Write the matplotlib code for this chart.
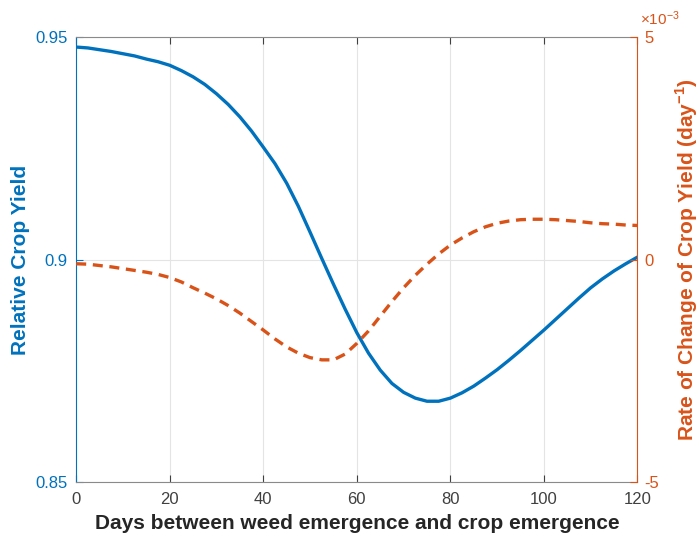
import numpy as np
import matplotlib
matplotlib.use("Agg")
import matplotlib.pyplot as plt

plt.rcParams['font.family'] = ['Liberation Sans', 'DejaVu Sans']
plt.rcParams['axes.unicode_minus'] = False
plt.rcParams['mathtext.fontset'] = 'custom'
plt.rcParams['mathtext.rm'] = 'Liberation Sans'
plt.rcParams['mathtext.bf'] = 'Liberation Sans:bold'

# 資料
days = [0, 2.5, 5, 7.5, 10, 12.5, 15, 17.5, 20, 22.5, 25, 27.5, 30, 32.5,
        35, 37.5, 40, 42.5, 45, 47.5, 50, 52.5, 55, 57.5, 60, 62.5, 65,
        67.5, 70, 72.5, 75, 77.5, 80, 82.5, 85, 87.5, 90, 92.5, 95, 97.5,
        100, 102.5, 105, 107.5, 110, 112.5, 115, 117.5, 120]
yield_rel = [0.9478, 0.9476, 0.9472, 0.9468, 0.9463, 0.9458, 0.9451, 0.9445,
             0.9437, 0.9425, 0.9411, 0.9394, 0.9373, 0.9349, 0.9321, 0.9289,
             0.9253, 0.9216, 0.9172, 0.9120, 0.9062, 0.9003, 0.8945, 0.8889,
             0.8836, 0.8790, 0.8752, 0.8722, 0.8702, 0.8689, 0.8682, 0.8682,
             0.8689, 0.8701, 0.8716, 0.8734, 0.8753, 0.8774, 0.8796, 0.8819,
             0.8842, 0.8866, 0.8890, 0.8914, 0.8937, 0.8957, 0.8975, 0.8991,
             0.9006]
# rate of change, in units of 1e-3 / day
rate = [-0.09, -0.10, -0.13, -0.16, -0.20, -0.24, -0.28, -0.33, -0.40, -0.50,
        -0.63, -0.75, -0.88, -1.03, -1.20, -1.39, -1.58, -1.78, -1.96, -2.10,
        -2.20, -2.25, -2.25, -2.12, -1.88, -1.60, -1.27, -0.94, -0.63, -0.35,
        -0.10, 0.13, 0.33, 0.49, 0.63, 0.74, 0.82, 0.87, 0.90, 0.91,
        0.91, 0.90, 0.88, 0.86, 0.83, 0.81, 0.80, 0.78, 0.77]

xticks = [0, 20, 40, 60, 80, 100, 120]
left_ticks = [0.85, 0.9, 0.95]
right_ticks = [-5, 0, 5]

blue = '#0072BD'
orange = '#D95319'
gray = '#262626'

fig = plt.figure(figsize=(6.99, 5.40), dpi=100)
ax = fig.add_axes([0.109, 0.107, 0.803, 0.824])
ax2 = ax.twinx()

ax.plot(days, yield_rel, color=blue, lw=2.4, solid_joinstyle='round')
ax2.plot(days, rate, color=orange, lw=2.4, ls=(0, (3.0, 2.0)))

ax.set_xlim(0, 120)
ax.set_ylim(0.85, 0.95)
ax2.set_ylim(-5, 5)
ax.set_xticks(xticks)
ax.set_yticks(left_ticks)
ax.set_yticklabels(['0.85', '0.9', '0.95'])
ax2.set_yticks(right_ticks)

ax.grid(True, color='#e4e4e4', lw=0.8)
ax.set_axisbelow(True)

ax.tick_params(axis='x', direction='in', top=True, colors='#404040',
               labelsize=12, length=5, pad=7)
ax.tick_params(axis='y', direction='in', colors=blue, labelsize=12, length=5, pad=6)
ax2.tick_params(axis='y', direction='in', colors=orange, labelsize=12, length=5, pad=5)

for s in ['top', 'bottom']:
    ax.spines[s].set_color('#8a8a8a')
    ax2.spines[s].set_visible(False)
ax.spines['left'].set_color(blue)
ax.spines['right'].set_visible(False)
ax2.spines['left'].set_visible(False)
ax2.spines['right'].set_color(orange)

ax.set_xlabel('Days between weed emergence and crop emergence',
              fontsize=15, fontweight='bold', color=gray, labelpad=5)
ax.set_ylabel('Relative Crop Yield', fontsize=15, fontweight='bold',
              color=blue, labelpad=4)
ax2.set_ylabel('Rate of Change of Crop Yield (day$^{\\mathbf{-1}}$)',
               fontsize=15, fontweight='bold', color=orange, labelpad=10)

# ×10^-3 multiplier above the right axis
ax2.text(1.004, 1.02, r'$\times\mathregular{10^{-3}}$', transform=ax2.transAxes,
         color=orange, fontsize=11, ha='left', va='bottom')

fig.savefig('out.png', dpi=100)
